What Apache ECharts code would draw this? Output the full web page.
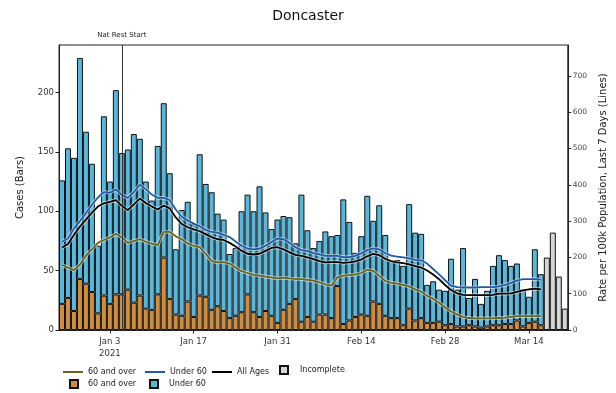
<!DOCTYPE html>
<html><head><meta charset="utf-8">
<script src="https://cdn.jsdelivr.net/npm/echarts@6/dist/echarts.min.js"></script>
<style>html,body{margin:0;padding:0;background:#fff}#c{width:616px;height:393px}</style>
</head><body><div id="c"></div>
<script>
// Daily categories: 2020-12-26 .. 2021-03-20 (85 days)
const dates = [];
for (let i = 0; i < 85; i++) {
  const d = new Date(Date.UTC(2020, 11, 26 + i));
  dates.push(d.toISOString().slice(0, 10));
}
const tickLabels = {
  '2021-01-03': 'Jan 3\n2021', '2021-01-17': 'Jan 17', '2021-01-31': 'Jan 31',
  '2021-02-14': 'Feb 14', '2021-02-28': 'Feb 28', '2021-03-14': 'Mar 14'
};
const natRestDate = '2021-01-05';

// Complete days (first 81)
const cases60Plus = [22,27,16,43,39,32,14,29,22,30, 30,34,23,29,18,17,30,61,26,13,
  12,24,11,29,28,17,20,16,10,12, 15,30,15,11,16,12,6,17,22,26,
  7,11,7,13,13,10,37,5,8,11, 13,12,24,22,12,10,10,4,18,8,
  10,6,6,7,4,5,3,3,4,3, 2,3,4,4,5,5,8,3,6,7,4];
const casesUnder60 = [104,126,129,186,128,108,57,151,103,172, 119,118,142,132,107,92,125,130,106,55,
  89,84,78,119,95,99,78,77,54,57, 85,84,85,110,83,73,87,79,73,47,
  107,73,62,62,70,69,43,105,83,54, 66,101,68,83,68,48,49,50,88,74,
  71,32,35,27,29,55,31,66,23,40, 20,30,50,59,54,49,48,31,22,61,43];
// Incomplete days (last 4)
const casesIncomplete = [61,82,45,18];

// 7-day rates per 100k
const rate60Plus = [179,172,165,180,205,222,240,248,255,265, 255,240,245,250,243,238,234,270,270,258,
  250,238,232,228,210,190,186,187,183,172, 162,157,152,150,147,145,142,144,142,141,
  140,138,136,131,126,122,145,150,151,153, 157,166,163,149,135,130,128,124,120,112,
  106,94,86,75,62,51,43,36,33,32, 32,32,32,33,34,36,38,38,38,38,38];
const rateUnder60 = [243,252,280,300,322,345,365,380,378,387, 372,364,380,400,388,373,364,364,358,332,
  312,302,293,286,276,270,268,262,256,244, 232,224,222,224,232,242,252,250,240,228,
  220,218,212,208,204,205,204,201,201,204, 211,220,225,222,212,205,202,200,197,193,
  192,183,168,153,137,122,118,117,117,117, 118,118,118,120,124,130,136,140,140,140,139];
const rateAll = [227,237,262,285,304,323,340,349,353,358, 342,330,346,362,350,340,332,343,335,310,
  292,283,277,272,264,256,250,248,240,230, 218,210,208,210,218,226,228,222,214,207,
  204,200,195,190,186,187,187,185,186,189, 194,203,210,206,196,190,186,184,181,176,
  172,164,153,140,124,110,101,97,96,96, 96,96,97,100,100,101,105,109,112,114,112];

const nC = cases60Plus.length;
const pad = arr => dates.map((d, i) => i < arr.length ? arr[i] : null);
const incData = dates.map((d, i) => i >= nC ? casesIncomplete[i - nC] : null);

const FONT = 'DejaVu Sans';
const C_OLD = '#cf8d3f', C_YOUNG = '#5ab7dc', C_INC = '#d6d6d6';
const L_OLD = '#66641e', L_YOUNG = '#1f5ba8', L_ALL = '#000000';
const isTick = (idx, val) => tickLabels[val] !== undefined;

function halo(data) {
  return { type: 'line', yAxisIndex: 1, data: pad(data), symbol: 'none', silent: true,
    lineStyle: { color: 'rgba(255,255,255,0.55)', width: 3.6 }, z: 3 };
}
function lineS(name, data, color) {
  return { name: name, type: 'line', yAxisIndex: 1, data: pad(data), symbol: 'none',
    lineStyle: { color: color, width: 1.8 }, itemStyle: { color: color }, z: 4 };
}
function legendItem(name, left, top, w, h, fmt, icon, pad0) {
  return { data: [{ name: name, icon: icon }], left: left, top: top, itemWidth: w, itemHeight: h, padding: 0,
    formatter: fmt, selectedMode: false,
    textStyle: { fontFamily: FONT, fontSize: 8, color: '#222', padding: [0, 0, 0, pad0 || 0] } };
}

const chart = echarts.init(document.getElementById('c'), null, { renderer: 'canvas' });
chart.setOption({
  animation: false,
  backgroundColor: '#fff',
  title: { text: 'Doncaster', left: 'center', top: 4,
    textStyle: { fontFamily: FONT, fontSize: 14, fontWeight: 'normal', color: '#111' } },
  grid: { left: 59, right: 43, top: 45, bottom: 63, show: true, borderColor: '#222', borderWidth: 1, backgroundColor: 'transparent' },
  legend: [
    legendItem('60 and over (rate)', 63, 368, 20, 2, '60 and over', 'rect'),
    legendItem('60 and over', 69, 379, 8, 8, '60 and over', 'rect', 5),
    legendItem('Under 60 (rate)', 145, 368, 20, 2, 'Under 60', 'rect'),
    legendItem('Under 60', 149, 379, 8, 8, 'Under 60', 'rect', 6),
    legendItem('All Ages', 212, 368, 20, 2, 'All Ages', 'rect'),
    legendItem('Incomplete', 279, 365, 8, 8, 'Incomplete', 'rect', 7)
  ],
  xAxis: {
    type: 'category', data: dates, boundaryGap: true,
    axisLine: { show: true, lineStyle: { color: '#222' } },
    axisTick: { show: true, interval: isTick, alignWithLabel: true, length: 3.5, lineStyle: { color: '#222' } },
    axisLabel: { interval: isTick, formatter: v => tickLabels[v] || '', fontFamily: FONT, fontSize: 8.5,
      color: '#333', margin: 6, lineHeight: 12 },
    splitLine: { show: false }
  },
  yAxis: [
    { type: 'value', min: 0, max: 240, interval: 50, position: 'left',
      name: 'Cases (Bars)', nameLocation: 'middle', nameGap: 34, nameRotate: 90,
      nameTextStyle: { fontFamily: FONT, fontSize: 10, color: '#222' },
      axisLine: { show: true, lineStyle: { color: '#222' } },
      axisTick: { show: true, length: 3.5, lineStyle: { color: '#222' } },
      axisLabel: { fontFamily: FONT, fontSize: 8.5, color: '#333', margin: 5, showMaxLabel: false },
      splitLine: { show: false } },
    { type: 'value', min: 0, max: 785, interval: 100, position: 'right',
      name: 'Rate per 100k Population, Last 7 Days (Lines)', nameLocation: 'middle', nameGap: 29, nameRotate: 90,
      nameTextStyle: { fontFamily: FONT, fontSize: 10, color: '#222' },
      axisLine: { show: true, lineStyle: { color: '#222' } },
      axisTick: { show: true, length: 3.5, lineStyle: { color: '#222' } },
      axisLabel: { fontFamily: FONT, fontSize: 7.5, color: '#444', margin: 5, showMaxLabel: false },
      splitLine: { show: false } }
  ],
  series: [
    { name: '60 and over', type: 'bar', stack: 'cases', data: pad(cases60Plus), barCategoryGap: '0%',
      itemStyle: { color: C_OLD, borderColor: '#111', borderWidth: 1 }, z: 2,
      markLine: { symbol: 'none', silent: true, animation: false,
        lineStyle: { color: '#333', width: 1, type: 'solid' },
        label: { show: true, position: 'end', formatter: 'Nat Rest Start', fontFamily: FONT, fontSize: 7, color: '#222', distance: 6 },
        data: [{ xAxis: natRestDate }] } },
    { name: 'Under 60', type: 'bar', stack: 'cases', data: pad(casesUnder60), barCategoryGap: '0%',
      itemStyle: { color: C_YOUNG, borderColor: '#111', borderWidth: 1 }, z: 2 },
    { name: 'Incomplete', type: 'bar', stack: 'cases', data: incData, barCategoryGap: '0%',
      itemStyle: { color: C_INC, borderColor: '#111', borderWidth: 1 }, z: 2 },
    halo(rate60Plus), halo(rateUnder60), halo(rateAll),
    lineS('60 and over (rate)', rate60Plus, L_OLD),
    lineS('Under 60 (rate)', rateUnder60, L_YOUNG),
    lineS('All Ages', rateAll, L_ALL)
  ]
});
</script></body></html>
